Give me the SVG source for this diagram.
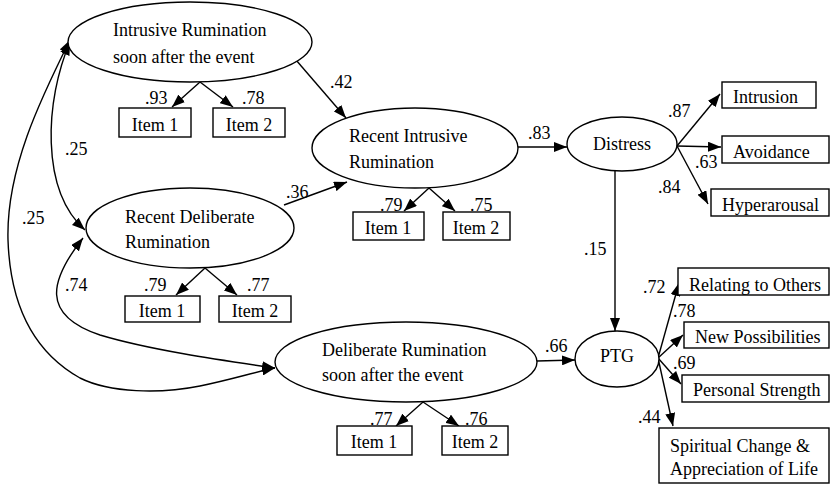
<svg xmlns="http://www.w3.org/2000/svg" width="831" height="484" viewBox="0 0 831 484">
  <style>
    .latent { fill: #fff; stroke: #000; stroke-width: 1.4; }
    .box { fill: #fff; stroke: #000; stroke-width: 1.4; }
    .lbl { font-family: "Liberation Serif", "Times New Roman", serif; font-size: 18px; fill: #000; }
    .mid { text-anchor: middle; }
    .edge { fill: none; stroke: #000; stroke-width: 1.4; marker-end: url(#head); }
    .both { marker-start: url(#tail); }
    .coef { font-family: "Liberation Serif", "Times New Roman", serif; font-size: 18px; fill: #000; }
  </style>
  <defs>
    <marker id="head" markerUnits="userSpaceOnUse" markerWidth="14" markerHeight="10" refX="13" refY="5" orient="auto">
      <path d="M0,0 L13,5 L0,10 z" fill="#000"/>
    </marker>
    <marker id="tail" markerUnits="userSpaceOnUse" markerWidth="14" markerHeight="10" refX="13" refY="5" orient="auto-start-reverse">
      <path d="M0,0 L13,5 L0,10 z" fill="#000"/>
    </marker>
  </defs>
  <rect width="831" height="484" fill="#fff"/>

  <!-- connectors -->
  <g id="connectors">
    <!-- covariances -->
    <path class="edge both" d="M70,42 C45,100 40,190 85,230"/>
    <path class="edge both" d="M70,40 C40,100 6,170 8,240 C10,300 30,350 80,378 C110,393 160,394 200,386 C230,380 255,372 275,368"/>
    <path class="edge both" d="M83,238 C50,280 40,315 100,335 C150,350 220,360 275,368"/>
    <!-- structural paths -->
    <line class="edge" x1="296" y1="60" x2="346" y2="118"/>
    <line class="edge" x1="284" y1="205" x2="347" y2="182"/>
    <line class="edge" x1="518" y1="147" x2="567" y2="147"/>
    <line class="edge" x1="615" y1="171" x2="615" y2="331"/>
    <line class="edge" x1="537" y1="361" x2="575" y2="360"/>
    <!-- indicator loadings -->
    <line class="edge" x1="200" y1="82" x2="172" y2="107"/>
    <line class="edge" x1="200" y1="82" x2="233" y2="107"/>
    <line class="edge" x1="205" y1="268" x2="176" y2="295"/>
    <line class="edge" x1="205" y1="268" x2="237" y2="295"/>
    <line class="edge" x1="429" y1="188" x2="404" y2="211"/>
    <line class="edge" x1="429" y1="188" x2="455" y2="211"/>
    <line class="edge" x1="423" y1="402" x2="396" y2="426"/>
    <line class="edge" x1="423" y1="402" x2="459" y2="426"/>
    <line class="edge" x1="677" y1="146" x2="720" y2="94"/>
    <line class="edge" x1="677" y1="146" x2="721" y2="147"/>
    <line class="edge" x1="677" y1="146" x2="708" y2="204"/>
    <line class="edge" x1="658" y1="358" x2="679" y2="283"/>
    <line class="edge" x1="658" y1="358" x2="683" y2="335"/>
    <line class="edge" x1="658" y1="358" x2="681" y2="384"/>
    <line class="edge" x1="658" y1="358" x2="673" y2="426"/>
  </g>

  <!-- coefficients -->
  <g id="coefficients" class="coef">
    <text x="145" y="104">.93</text>
    <text x="242" y="104">.78</text>
    <text x="65" y="155">.25</text>
    <text x="22" y="224">.25</text>
    <text x="330" y="88">.42</text>
    <text x="286" y="198">.36</text>
    <text x="380" y="211">.79</text>
    <text x="470" y="211">.75</text>
    <text x="528" y="139">.83</text>
    <text x="668" y="117">.87</text>
    <text x="695" y="168">.63</text>
    <text x="658" y="193">.84</text>
    <text x="584" y="255">.15</text>
    <text x="144" y="291">.79</text>
    <text x="247" y="291">.77</text>
    <text x="65" y="291">.74</text>
    <text x="370" y="425">.77</text>
    <text x="465" y="425">.76</text>
    <text x="545" y="352">.66</text>
    <text x="643" y="293">.72</text>
    <text x="673" y="317">.78</text>
    <text x="673" y="369">.69</text>
    <text x="638" y="423">.44</text>
  </g>

  <!-- latent variables -->
  <g id="intrusive-early">
    <ellipse class="latent" cx="190" cy="42" rx="122" ry="40"/>
    <text class="lbl" x="113" y="36">Intrusive Rumination</text>
    <text class="lbl" x="113" y="63">soon after the event</text>
  </g>
  <g id="deliberate-recent">
    <ellipse class="latent" cx="190" cy="228" rx="104" ry="40"/>
    <text class="lbl" x="125" y="223">Recent Deliberate</text>
    <text class="lbl" x="125" y="248">Rumination</text>
  </g>
  <g id="intrusive-recent">
    <ellipse class="latent" cx="415" cy="148" rx="103" ry="40"/>
    <text class="lbl" x="349" y="142">Recent Intrusive</text>
    <text class="lbl" x="349" y="168">Rumination</text>
  </g>
  <g id="deliberate-early">
    <ellipse class="latent" cx="406" cy="362" rx="131" ry="40"/>
    <text class="lbl" x="322" y="356">Deliberate Rumination</text>
    <text class="lbl" x="322" y="381">soon after the event</text>
  </g>
  <g id="distress">
    <ellipse class="latent" cx="622" cy="144" rx="55" ry="27"/>
    <text class="lbl mid" x="622" y="150">Distress</text>
  </g>
  <g id="ptg">
    <ellipse class="latent" cx="617" cy="359" rx="42" ry="28"/>
    <text class="lbl mid" x="617" y="362">PTG</text>
  </g>

  <!-- indicators -->
  <g id="ie-item1"><rect class="box" x="119" y="108" width="72" height="29"/><text class="lbl mid" x="155" y="131">Item 1</text></g>
  <g id="ie-item2"><rect class="box" x="213" y="108" width="72" height="29"/><text class="lbl mid" x="249" y="131">Item 2</text></g>
  <g id="dr-item1"><rect class="box" x="125" y="296" width="75" height="26"/><text class="lbl mid" x="162" y="317">Item 1</text></g>
  <g id="dr-item2"><rect class="box" x="219" y="296" width="72" height="26"/><text class="lbl mid" x="255" y="317">Item 2</text></g>
  <g id="ir-item1"><rect class="box" x="353" y="212" width="71" height="28"/><text class="lbl mid" x="388" y="234">Item 1</text></g>
  <g id="ir-item2"><rect class="box" x="443" y="212" width="67" height="28"/><text class="lbl mid" x="476" y="234">Item 2</text></g>
  <g id="de-item1"><rect class="box" x="337" y="426" width="75" height="29"/><text class="lbl mid" x="374" y="448">Item 1</text></g>
  <g id="de-item2"><rect class="box" x="442" y="426" width="66" height="29"/><text class="lbl mid" x="475" y="448">Item 2</text></g>

  <g id="intrusion"><rect class="box" x="722" y="82" width="94" height="26"/><text class="lbl" x="733" y="103">Intrusion</text></g>
  <g id="avoidance"><rect class="box" x="722" y="136" width="107" height="27"/><text class="lbl" x="733" y="158">Avoidance</text></g>
  <g id="hyperarousal"><rect class="box" x="711" y="189" width="118" height="27"/><text class="lbl" x="722" y="211">Hyperarousal</text></g>

  <g id="relating"><rect class="box" x="678" y="268" width="151" height="27"/><text class="lbl" x="689" y="291">Relating to Others</text></g>
  <g id="new-possibilities"><rect class="box" x="684" y="322" width="145" height="26"/><text class="lbl" x="695" y="343">New Possibilities</text></g>
  <g id="personal-strength"><rect class="box" x="682" y="375" width="147" height="27"/><text class="lbl" x="693" y="396">Personal Strength</text></g>
  <g id="spiritual">
    <rect class="box" x="659" y="428" width="170" height="55"/>
    <text class="lbl" x="670" y="452">Spiritual Change &amp;</text>
    <text class="lbl" x="670" y="475">Appreciation of Life</text>
  </g>
</svg>
